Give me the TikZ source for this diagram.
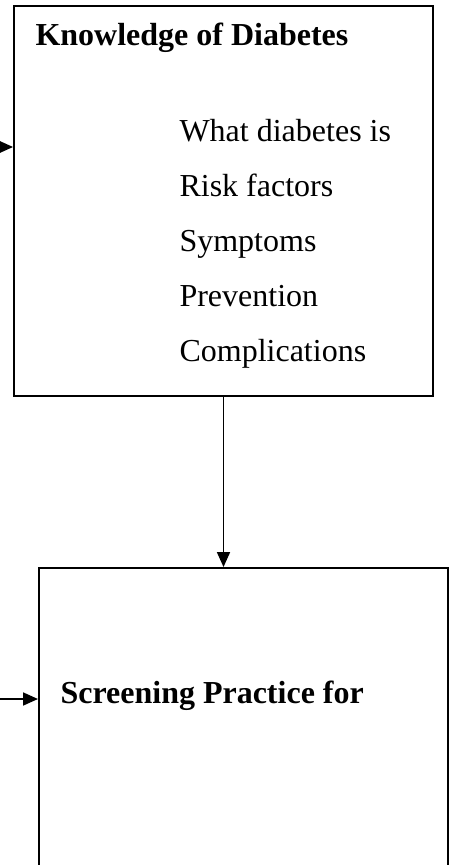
\documentclass[tikz,border=0pt]{standalone}
\usepackage{fontspec}
\setmainfont{Liberation Serif}
\usetikzlibrary{arrows.meta}
\tikzset{
  box/.style={draw,line width=0.75pt,inner sep=0pt},
  lbl/.style={anchor=base west,inner sep=0pt,font=\fontsize{12}{14}\selectfont},
  arr/.style={line width=0.55pt,-{Triangle[length=5.6pt,width=4.9pt]}}
}
\begin{document}
\begin{tikzpicture}[x=0.375pt,y=-0.375pt]
  \useasboundingbox (0,0) rectangle (449,865);
  \clip (0,0) rectangle (449,865);
  \node[box,minimum width=157.1pt,minimum height=146.3pt] (know) at (223.5,201) {};
  \node[box,minimum width=153.4pt,minimum height=117pt] (screen) at (243.5,724) {};
  \node[lbl,font=\fontsize{12}{14}\selectfont\bfseries] (knowtitle) at (35,46) {Knowledge of Diabetes};
  \foreach \T [count=\i from 0] in {What diabetes is,Risk factors,Symptoms,Prevention,Complications}
    \node[lbl] (item\i) at (179,141.7+55*\i) {\T};
  \node[lbl,font=\fontsize{12}{14}\selectfont\bfseries] (screentitle) at (60,703) {Screening Practice for};
  \coordinate (in1) at (0,147);
  \coordinate (in2) at (0,699);
  \draw[arr] (in1) -- (in1 -| know.west);
  \draw[arr] (in2) -- (in2 -| screen.west);
  \draw[arr] (know.south) -- (know.south |- screen.north);
\end{tikzpicture}
\end{document}
